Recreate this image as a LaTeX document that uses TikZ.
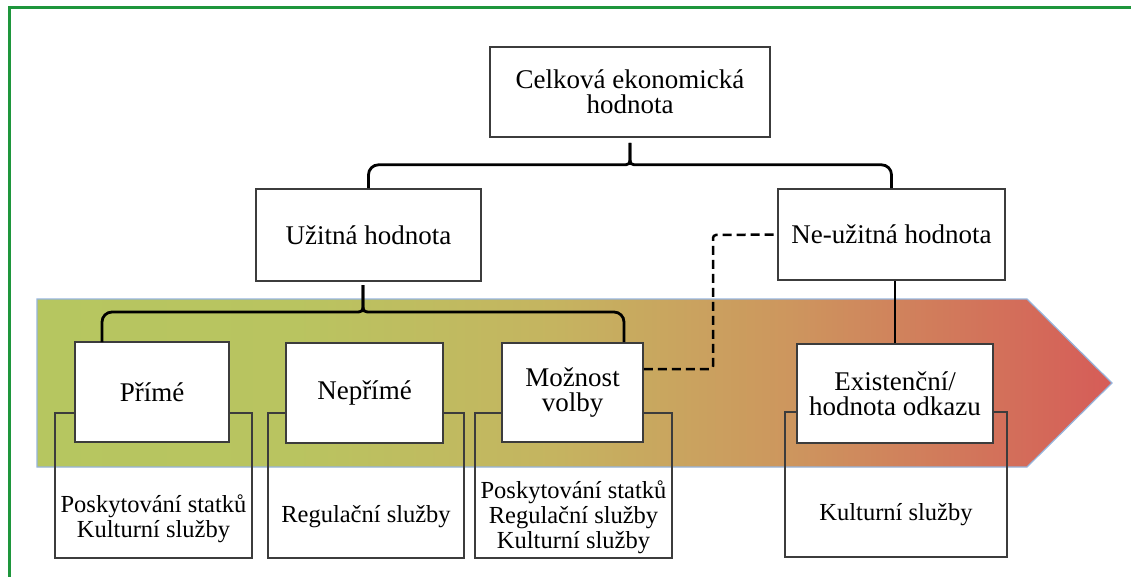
\documentclass[tikz,border=0pt]{standalone}
\usepackage{fontspec}
\setmainfont{Liberation Serif}
\usetikzlibrary{calc}
\definecolor{frameg}{RGB}{30,150,60}
\definecolor{boxgray}{RGB}{60,60,60}
\definecolor{bandedge}{RGB}{150,180,220}
\definecolor{cA}{RGB}{182,198,96}
\definecolor{cB}{RGB}{185,196,96}
\definecolor{cC}{RGB}{197,180,96}
\definecolor{cD}{RGB}{205,150,94}
\definecolor{cE}{RGB}{214,92,88}
\pgfdeclarehorizontalshading{bandshade}{100bp}{color(0bp)=(cA); color(25bp)=(cA); color(37bp)=(cB); color(49bp)=(cC); color(60bp)=(cD); color(75bp)=(cE); color(100bp)=(cE)}
\tikzset{
  topbox/.style={draw=boxgray, fill=white, line width=1.6pt, inner sep=0pt, align=center,
    font=\rmfamily\fontsize{27}{25}\selectfont},
  lowbox/.style={draw=boxgray, line width=1.6pt, inner sep=0pt},
  lowtext/.style={inner sep=0pt, align=center, font=\rmfamily\fontsize{24.5}{25}\selectfont},
  brk/.style={draw=black, line width=2.8pt},
  dsh/.style={draw=black, line width=2.5pt, dash pattern=on 9pt off 5pt, rounded corners=3pt},
  plain/.style={draw=black, line width=2pt}
}
\begin{document}
\begin{tikzpicture}[x=1pt,y=-1pt]
\path[use as bounding box, clip] (0,0) rectangle (1131,577);
\fill[white] (0,0) rectangle (1131,577);
% green frame
\draw[frameg, line width=3pt] (9,8) rectangle (1150,600);
% band arrow
\path[shading=bandshade, draw=bandedge, line width=1.2pt]
  (37,299) -- (1027,299) -- (1112,383) -- (1027,467) -- (37,467) -- cycle;

% top level
\node[topbox, minimum width=280pt, minimum height=90pt] (top) at (630,92) {Celková ekonomická\\hodnota};
\node[topbox, minimum width=225pt, minimum height=92pt] (u) at (368.5,235) {Užitná hodnota};
\node[topbox, minimum width=227pt, minimum height=91pt] (n) at (891.5,234.5) {Ne-užitná hodnota};

% lower outline boxes (behind)
\node[lowbox, minimum width=197pt, minimum height=145pt] (pb) at (153.5,485.5) {};
\node[lowbox, minimum width=196pt, minimum height=145pt] (nb) at (366,485.5) {};
\node[lowbox, minimum width=197pt, minimum height=145pt] (mb) at (573.5,485.5) {};
\node[lowbox, minimum width=222pt, minimum height=145pt] (eb) at (896,484.5) {};

% level-3 boxes
\node[topbox, minimum width=154pt, minimum height=100pt] (p) at (152,392) {Přímé};
\node[topbox, minimum width=157pt, minimum height=100pt] (np) at (364.5,393) {Nepřímé};
\node[topbox, minimum width=141pt, minimum height=99pt] (m) at (572.5,392.5) {Možnost\\volby};
\node[topbox, minimum width=196pt, minimum height=99pt] (e) at (895,393.5) {Existenční/\\hodnota odkazu};

% lower texts
\node[lowtext] (pt) at (153.5,519) {Poskytování statků\\Kulturní služby};
\node[lowtext] (nt) at (366,517) {Regulační služby};
\node[lowtext] (mt) at (573.5,517) {Poskytování statků\\Regulační služby\\Kulturní služby};
\node[lowtext] (et) at (896,515) {Kulturní služby};

% bracket top -> u, n
\coordinate (c1) at ($(top.south)+(0,5)$);
\draw[brk] (c1) -- ++(0,13) .. controls ++(0,9) .. ++(-9,9) [rounded corners=10pt] -| (u.north);
\draw[brk] (c1) -- ++(0,13) .. controls ++(0,9) .. ++(9,9) [rounded corners=10pt] -| (n.north);

% bracket u -> p, np, m
\coordinate (c2) at (363,285);
\coordinate (b2l) at (102,342);
\coordinate (b2r) at (624,342);
\draw[brk] (c2) -- ++(0,18) .. controls ++(0,9) .. ++(-9,9) [rounded corners=10pt] -| (b2l);
\draw[brk] (c2) -- ++(0,18) .. controls ++(0,9) .. ++(9,9) [rounded corners=10pt] -| (b2r);

% n -> e
\draw[plain] (e.north |- n.south) -- (e.north);

% dashed m -> n
\coordinate (d1) at (m.east |- 0,369);
\draw[dsh] (d1) -- (713,369) -- (713,235) -- (n.west);
\end{tikzpicture}
\end{document}
